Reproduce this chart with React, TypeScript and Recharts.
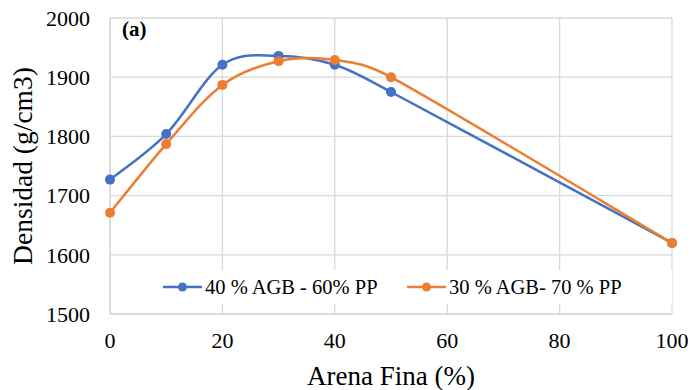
import React from 'react';
import { LineChart, Line, XAxis, YAxis, CartesianGrid, Legend, Customized } from 'recharts';

const arenaFina = [0, 10, 20, 30, 40, 50, 100];
const serie40AGB = [1727, 1804, 1921, 1936, 1921, 1875, 1620];
const serie30AGB = [1671, 1787, 1887, 1927, 1929, 1900, 1620];
const xTicks = [0, 20, 40, 60, 80, 100];
const yTicks = [1500, 1600, 1700, 1800, 1900, 2000];
const seriesNames = ['40 % AGB - 60% PP', '30 % AGB- 70 % PP'];
const seriesColors = ['#4472C4', '#ED7D31'];

const data = arenaFina.map((x, i) => ({ x, a: serie40AGB[i], b: serie30AGB[i] }));

const FONT = 'Liberation Serif';

// Excel-like smoothed line: Catmull-Rom handles capped at half the segment length
const dist = (p: number[], q: number[]) => Math.hypot(q[0] - p[0], q[1] - p[1]);
const excelSmooth: any = (context: any) => {
  let pts: number[][] = [];
  return {
    areaStart() {},
    areaEnd() {},
    lineStart() { pts = []; },
    point(x: number, y: number) { pts.push([+x, +y]); },
    lineEnd() {
      const n = pts.length;
      if (!n) return;
      context.moveTo(pts[0][0], pts[0][1]);
      for (let i = 0; i < n - 1; i++) {
        const p0 = pts[Math.max(i - 1, 0)];
        const p1 = pts[i];
        const p2 = pts[i + 1];
        const p3 = pts[Math.min(i + 2, n - 1)];
        const d12 = dist(p1, p2);
        const d02 = dist(p0, p2);
        const d13 = dist(p1, p3);
        let f1 = 1 / 6;
        let f2 = 1 / 6;
        if (d02 > 0 && d02 / 6 > d12 / 2) f1 = d12 / (2 * d02);
        if (d13 > 0 && d13 / 6 > d12 / 2) f2 = d12 / (2 * d13);
        context.bezierCurveTo(
          p1[0] + f1 * (p2[0] - p0[0]),
          p1[1] + f1 * (p2[1] - p0[1]),
          p2[0] - f2 * (p3[0] - p1[0]),
          p2[1] - f2 * (p3[1] - p1[1]),
          p2[0], p2[1]
        );
      }
    },
  };
};

const renderLegend = (props: any) => {
  const payload = [...(props.payload || [])].sort(
    (a: any, b: any) => seriesNames.indexOf(a.value) - seriesNames.indexOf(b.value)
  );
  const starts = [8, 252];
  return (
    <svg width={517} height={34} style={{ display: 'block' }}>
      {payload.map((p: any, i: number) => {
        const sx = starts[i] ?? 8 + i * 244;
        return (
          <g key={i}>
            <line x1={sx} x2={sx + 39} y1={17} y2={17} stroke={p.color} strokeWidth={2.5} />
            <circle cx={sx + 19.5} cy={17} r={4.5} fill={p.color} />
            <text x={sx + 42} y={17} dy="0.355em" fontFamily={FONT} fontSize={20.5} fill="#000">{p.value}</text>
          </g>
        );
      })}
    </svg>
  );
};

const PanelLabel = () => (
  <text x={122} y={36} fontFamily={FONT} fontSize={21} fontWeight="bold" fill="#000">(a)</text>
);

export default function App() {
  return (
    <div style={{ position: 'absolute', left: 0, top: 0, background: '#fff' }}>
      <LineChart width={691} height={390} data={data} margin={{ top: 18, right: 19, bottom: 0, left: 0 }}>
        <CartesianGrid stroke="#d9d9d9" strokeWidth={1.3} />
        <XAxis
          dataKey="x"
          type="number"
          domain={[0, 100]}
          ticks={xTicks}
          height={76}
          tickSize={0}
          tickMargin={18}
          axisLine={{ stroke: '#d9d9d9', strokeWidth: 1.3 }}
          tick={{ fontFamily: FONT, fontSize: 22, fill: '#000' }}
          label={{ value: 'Arena Fina (%)', position: 'insideBottom', offset: 5, style: { fontFamily: FONT, fontSize: 27, fill: '#000' } }}
        />
        <YAxis
          type="number"
          domain={[1500, 2000]}
          ticks={yTicks}
          width={110}
          tickSize={0}
          tickMargin={20}
          axisLine={{ stroke: '#d9d9d9', strokeWidth: 1.3 }}
          tick={{ fontFamily: FONT, fontSize: 22, fill: '#000' }}
          label={{ value: 'Densidad (g/cm3)', angle: -90, position: 'insideLeft', offset: 22, style: { fontFamily: FONT, fontSize: 27.5, fill: '#000', textAnchor: 'middle' } }}
        />
        <Legend
          layout="horizontal"
          verticalAlign="middle"
          align="center"
          content={renderLegend}
          wrapperStyle={{ left: 155, top: 270, width: 517, height: 34, background: '#fff' }}
        />
        <Line
          dataKey="a"
          name={seriesNames[0]}
          type={excelSmooth}
          stroke={seriesColors[0]}
          strokeWidth={2.5}
          dot={{ r: 5, fill: seriesColors[0], stroke: seriesColors[0], strokeWidth: 0 }}
          activeDot={false}
          isAnimationActive={false}
        />
        <Line
          dataKey="b"
          name={seriesNames[1]}
          type={excelSmooth}
          stroke={seriesColors[1]}
          strokeWidth={2.5}
          dot={{ r: 5, fill: seriesColors[1], stroke: seriesColors[1], strokeWidth: 0 }}
          activeDot={false}
          isAnimationActive={false}
        />
        <Customized component={PanelLabel} />
      </LineChart>
    </div>
  );
}
